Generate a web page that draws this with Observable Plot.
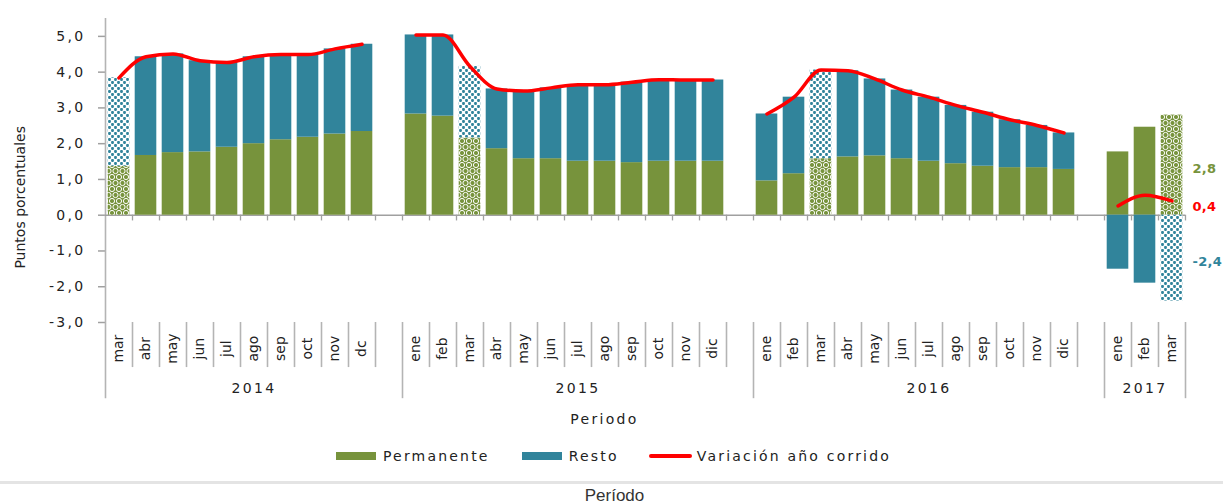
<!DOCTYPE html>
<html>
<head>
<meta charset="utf-8">
<script src="https://cdn.jsdelivr.net/npm/d3@7"></script>
<script src="https://cdn.jsdelivr.net/npm/@observablehq/plot@0.6"></script>
<style>
  body { margin: 0; background: #fff; font-family: "DejaVu Sans", sans-serif; color: #222; }
  #chart svg text { letter-spacing: 2.3px; }
  #chart svg text[transform*="rotate"] { letter-spacing: 0; }
  #chart svg g[font-weight="bold"] text { letter-spacing: 0.3px; }
  #chart [aria-label^="y-axis"] line, #chart [aria-label="y-axis tick"] path { stroke: #a0a0a0 !important; stroke-width: 1.5; }
  #legend { height: 32px; display: flex; align-items: center; justify-content: center; padding-left: 4px;
            font-size: 14px; letter-spacing: 2.2px; color: #222; }
  #legend .item { display: flex; align-items: center; }
  #legend .sw { width: 40px; height: 8px; margin-right: 7px; }
  #legend .ln { width: 43px; height: 4px; margin-right: 5px; border-radius: 2px; }
  #rule { margin-top: 9px; border-top: 3px solid #e4e4e4; }
  #caption { text-align: center; font-family: "Liberation Sans", sans-serif; font-size: 17px; color: #333;
             padding-top: 2px; padding-left: 6px; line-height: 20px; }
</style>
</head>
<body>
<div id="chart"></div>
<div id="legend"></div>
<div id="rule"></div>
<div id="caption">Período</div>
<script>
// ---- data ----
const years = ["2014", "2015", "2016", "2017"];
const months2014 = ["mar", "abr", "may", "jun", "jul", "ago", "sep", "oct", "nov", "dc"];
const months2015 = ["ene", "feb", "mar", "abr", "may", "jun", "jul", "ago", "sep", "oct", "nov", "dic"];
const months2016 = ["ene", "feb", "mar", "abr", "may", "jun", "jul", "ago", "sep", "oct", "nov", "dic"];
const months2017 = ["ene", "feb", "mar"];
const patternedMonth = "mar";

const permanente = [
  1.37, 1.67, 1.75, 1.77, 1.90, 2.00, 2.11, 2.18, 2.27, 2.34,
  2.83, 2.77, 2.16, 1.86, 1.58, 1.58, 1.51, 1.51, 1.47, 1.51, 1.51, 1.51,
  0.96, 1.16, 1.58, 1.63, 1.66, 1.58, 1.51, 1.44, 1.37, 1.33, 1.33, 1.28,
  1.77, 2.46, 2.80
];
const resto = [
  2.47, 2.76, 2.76, 2.55, 2.37, 2.43, 2.38, 2.31, 2.38, 2.44,
  2.21, 2.27, 2.00, 1.67, 1.89, 1.98, 2.14, 2.14, 2.25, 2.28, 2.27, 2.27,
  1.87, 2.14, 2.48, 2.41, 2.15, 1.92, 1.79, 1.63, 1.51, 1.34, 1.18, 1.02,
  -1.51, -1.90, -2.40
];
const variacion = [
  3.84, 4.43, 4.51, 4.32, 4.27, 4.43, 4.49, 4.49, 4.65, 4.78,
  5.04, 5.04, 4.16, 3.53, 3.47, 3.56, 3.65, 3.65, 3.72, 3.79, 3.78, 3.78,
  2.83, 3.30, 4.06, 4.04, 3.81, 3.50, 3.30, 3.07, 2.88, 2.67, 2.51, 2.30,
  0.26, 0.56, 0.40
];
const seriesNames = ["Permanente", "Resto", "Variación año corrido"];
const yTicks = [-3, -2, -1, 0, 1, 2, 3, 4, 5];
const yTitle = "Puntos porcentuales";
const xTitle = "Periodo";

// ---- colours ----
const green = "#77933C", blue = "#31849B", red = "#FF0000", grid = "#b4b4b4";

// ---- build table ----
const monthGroups = [months2014, months2015, months2016, months2017];
const rows = [], groups = [];
let slot = 0, idx = 0;
monthGroups.forEach((ms, g) => {
  const start = slot;
  ms.forEach(m => {
    rows.push({year: years[g], month: m, slot, perm: permanente[idx], resto: resto[idx], total: variacion[idx], hatched: m === patternedMonth});
    slot++; idx++;
  });
  if (g < monthGroups.length - 1) slot++; // blank slot closing each year
  groups.push({year: years[g], start, end: slot});
});
const nSlots = slot;

const segs = rows.flatMap(d => {
  const base = d.resto >= 0 ? d.perm : 0;
  return [
    {slot: d.slot, y1: 0, y2: d.perm, key: d.hatched ? "Pp" : "P"},
    {slot: d.slot, y1: base, y2: base + d.resto, key: d.hatched ? "Rp" : "R"}
  ];
});
const shortSeps = groups.flatMap(g => d3.range(g.start + 1, g.end));
const longSeps = [...groups.map(g => g.start), groups[groups.length - 1].end];
const axisTicks = d3.range(1, nSlots + 1);
const last = rows[rows.length - 1];
const fmt = v => v.toFixed(1).replace(".", ",");

// layout constants in y-units below the plot frame
const yMonthLbl = -3.73, ySepShort = -4.26, ySepLong = -5.13, yYearLbl = -4.84, yXTitle = -5.71;

const chart = Plot.plot({
  width: 1223, height: 440,
  marginLeft: 105, marginRight: 38, marginTop: 18, marginBottom: 118,
  style: {fontFamily: "'DejaVu Sans', sans-serif", fontSize: "14px", color: "#222", background: "#fff", overflow: "visible"},
  x: {domain: [0, nSlots], axis: null},
  y: {domain: [-3, 5.5], ticks: yTicks, tickFormat: fmt, tickSize: 7, tickPadding: 13, label: null},
  color: {type: "ordinal", domain: ["P", "R", "Pp", "Rp"], range: [green, blue, "url(#patPerm)", "url(#patResto)"], legend: false},
  marks: [
    // category separators
    Plot.ruleX(shortSeps, {x: d => d, y1: -3, y2: ySepShort, stroke: grid, strokeWidth: 1.6}),
    Plot.ruleX(longSeps, {x: d => d, y1: ySepLong, y2: d => d === 0 ? 5.5 : -3, stroke: grid, strokeWidth: 1.6}),
    // x axis at zero
    Plot.ruleY([0], {stroke: "#a0a0a0", strokeWidth: 1.5}),
    Plot.ruleX(axisTicks, {x: d => d, y1: 0, y2: -0.16, stroke: "#a0a0a0", strokeWidth: 1.3}),
    // bars
    Plot.rect(segs, {x1: d => d.slot + 0.1, x2: d => d.slot + 0.9, y1: "y1", y2: "y2", fill: "key"}),
    // line
    Plot.line(rows, {x: d => d.slot + 0.5, y: "total", z: "year", stroke: red, strokeWidth: 3.5, curve: "monotone-x"}),
    // month labels
    Plot.text(rows, {x: d => d.slot + 0.5, y: yMonthLbl, text: "month", rotate: -90, fontSize: 14, fill: "#222"}),
    // year labels
    Plot.text(groups, {x: d => (d.start + d.end) / 2, y: yYearLbl, text: "year", fontSize: 14, fill: "#222"}),
    // axis titles
    Plot.text([xTitle], {x: nSlots / 2, y: yXTitle, dx: -41, fontSize: 14, fill: "#222"}),
    Plot.text([yTitle], {x: 0, y: 0.5, dx: -85, rotate: -90, fontSize: 14, fill: "#222"}),
    // last-value labels
    Plot.text([last], {x: nSlots, y: d => d.perm / 2, dx: 7, dy: 4, text: d => fmt(d.perm), textAnchor: "start", fill: green, fontWeight: "bold", fontSize: 13}),
    Plot.text([last], {x: nSlots, y: d => d.total, dx: 7, dy: 6, text: d => fmt(d.total), textAnchor: "start", fill: red, fontWeight: "bold", fontSize: 13}),
    Plot.text([last], {x: nSlots, y: d => d.resto / 2, dx: 7, dy: 4, text: d => fmt(d.resto), textAnchor: "start", fill: blue, fontWeight: "bold", fontSize: 13})
  ]
});

// patterns
const defs = d3.select(chart).insert("defs", ":first-child");
const pp = defs.append("pattern").attr("id", "patPerm").attr("patternUnits", "userSpaceOnUse").attr("width", 7).attr("height", 12);
pp.append("rect").attr("width", 7).attr("height", 12).attr("fill", green);
[[3.5, 3], [0, 9], [7, 9]].forEach(([cx, cy]) =>
  pp.append("circle").attr("cx", cx).attr("cy", cy).attr("r", 2.6).attr("fill", "none").attr("stroke", "#fff").attr("stroke-width", 1));
const pr = defs.append("pattern").attr("id", "patResto").attr("patternUnits", "userSpaceOnUse").attr("width", 6).attr("height", 6);
pr.append("rect").attr("width", 6).attr("height", 6).attr("fill", "#fff");
[[1.5, 1.5], [4.5, 4.5]].forEach(([cx, cy]) =>
  pr.append("rect").attr("x", cx - 1.4).attr("y", cy - 1.4).attr("width", 2.8).attr("height", 2.8).attr("rx", 0.8).attr("fill", blue));

document.getElementById("chart").appendChild(chart);

// legend
const legend = d3.select("#legend");
const legendItems = [
  {name: seriesNames[0], kind: "sw", color: green},
  {name: seriesNames[1], kind: "sw", color: blue},
  {name: seriesNames[2], kind: "ln", color: red}
];
legendItems.forEach((it, i) => {
  const item = legend.append("div").attr("class", "item").style("margin-left", i === 0 ? "0px" : (i === 1 ? "32px" : "30px"));
  item.append("div").attr("class", it.kind).style("background", it.color);
  item.append("span").text(it.name);
});
</script>
</body>
</html>
